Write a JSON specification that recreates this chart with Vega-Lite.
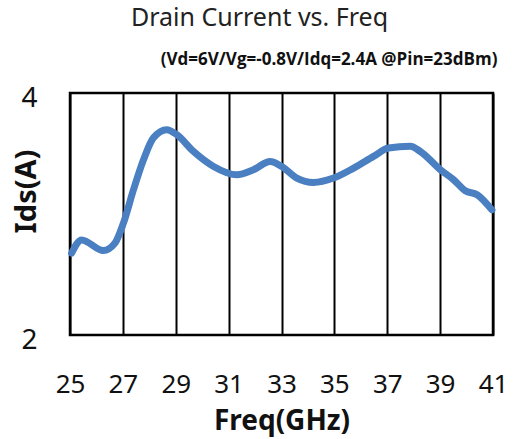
{
  "$schema": "https://vega.github.io/schema/vega-lite/v6.json",
  "width": 423,
  "height": 242,
  "autosize": {"type": "none"},
  "padding": {"left": 70, "top": 93, "right": 20, "bottom": 104},
  "background": "white",
  "title": {
    "text": "Drain Current vs. Freq",
    "font": "Noto Sans",
    "fontSize": 25,
    "fontWeight": "normal",
    "color": "#222222",
    "anchor": "middle",
    "dx": -22,
    "offset": 20
  },
  "config": {
    "view": {"stroke": "black", "strokeWidth": 2.5}
  },
  "layer": [
    {
      "data": {
        "values": [
          {"freq": 25.06, "ids": 2.676},
          {"freq": 25.44, "ids": 2.786},
          {"freq": 26.26, "ids": 2.698},
          {"freq": 26.7, "ids": 2.759},
          {"freq": 27.02, "ids": 2.924},
          {"freq": 27.4, "ids": 3.2},
          {"freq": 27.78, "ids": 3.448},
          {"freq": 28.15, "ids": 3.628},
          {"freq": 28.66, "ids": 3.697},
          {"freq": 29.04, "ids": 3.655},
          {"freq": 29.67, "ids": 3.517},
          {"freq": 30.43, "ids": 3.393},
          {"freq": 31.31, "ids": 3.324},
          {"freq": 31.94, "ids": 3.366},
          {"freq": 32.57, "ids": 3.434},
          {"freq": 33.01, "ids": 3.393},
          {"freq": 33.58, "ids": 3.297},
          {"freq": 34.21, "ids": 3.261},
          {"freq": 34.97, "ids": 3.297},
          {"freq": 35.73, "ids": 3.379},
          {"freq": 36.48, "ids": 3.476},
          {"freq": 37.05, "ids": 3.545},
          {"freq": 37.87, "ids": 3.559},
          {"freq": 38.25, "ids": 3.517},
          {"freq": 39.01, "ids": 3.366},
          {"freq": 39.51, "ids": 3.283},
          {"freq": 39.95, "ids": 3.192},
          {"freq": 40.4, "ids": 3.159},
          {"freq": 40.96, "ids": 3.034}
        ]
      },
      "mark": {"type": "line", "interpolate": "monotone", "color": "#4a7fc1", "strokeWidth": 7, "strokeCap": "round"},
      "encoding": {
        "x": {
          "field": "freq",
          "type": "quantitative",
          "scale": {"domain": [25, 41], "nice": false, "zero": false},
          "axis": {
            "values": [25, 27, 29, 31, 33, 35, 37, 39, 41],
            "format": "d",
            "grid": true,
            "gridColor": "black",
            "gridWidth": 2,
            "gridOpacity": 1,
            "domain": false,
            "ticks": false,
            "labelFlush": false,
            "labelFont": "Noto Sans",
            "labelFontSize": 26,
            "labelColor": "#111111",
            "labelPadding": 36,
            "title": "Freq(GHz)",
            "titleFont": "Noto Sans",
            "titleFontSize": 28,
            "titleFontWeight": "bold",
            "titleColor": "#111111",
            "titleY": 72,
            "titleBaseline": "top"
          }
        },
        "y": {
          "field": "ids",
          "type": "quantitative",
          "scale": {"domain": [2, 4], "nice": false, "zero": false},
          "axis": {
            "values": [2, 4],
            "format": "d",
            "grid": false,
            "domain": false,
            "ticks": false,
            "labelFlush": false,
            "labelFont": "Noto Sans",
            "labelFontSize": 28,
            "labelColor": "#111111",
            "labelPadding": 33,
            "labelOffset": 5,
            "title": "Ids(A)",
            "titleFont": "Noto Sans",
            "titleFontSize": 29,
            "titleFontWeight": "bold",
            "titleColor": "#111111",
            "titleAngle": -90,
            "titleX": -44,
            "titleY": 98,
            "titleBaseline": "middle",
            "titleAlign": "center"
          }
        }
      }
    },
    {
      "data": {"values": [{"label": "(Vd=6V/Vg=-0.8V/Idq=2.4A @Pin=23dBm)"}]},
      "mark": {"type": "text", "font": "Open Sans", "fontWeight": "bold", "fontSize": 17, "color": "#111111", "clip": false, "align": "center", "baseline": "middle"},
      "encoding": {
        "x": {"datum": 34.8, "type": "quantitative"},
        "y": {"datum": 4.27, "type": "quantitative"},
        "text": {"field": "label"}
      }
    }
  ]
}
